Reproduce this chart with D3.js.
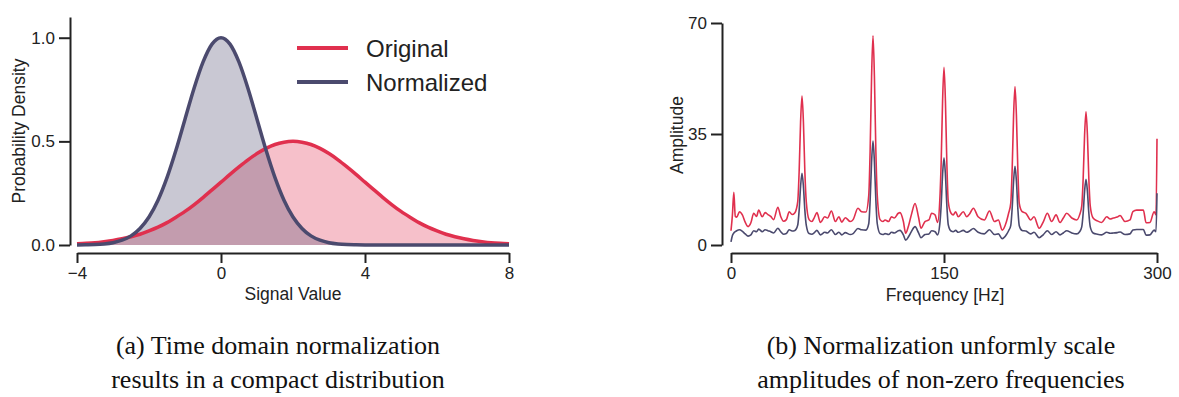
<!DOCTYPE html>
<html>
<head>
<meta charset="utf-8">
<script src="https://cdn.jsdelivr.net/npm/d3@7"></script>
<style>
  body { margin: 0; background: #fff; }
  .tick text { font-family: "Liberation Sans", Arial, sans-serif; font-size: 17px; fill: #222; }
  .tick line, .domain { stroke: #222; stroke-width: 2; }
  .lbl { font-family: "Liberation Sans", Arial, sans-serif; font-size: 17.5px; fill: #222; }
  .cap { font-family: "Liberation Serif", "Times New Roman", serif; font-size: 26px; fill: #111; }
</style>
</head>
<body>
<div id="chart"></div>
<script>

var width = 1179;
var height = 397;

// (a) densities
var sigX = [-4, -3.75, -3.5, -3.25, -3, -2.75, -2.5, -2.25, -2, -1.75, -1.5, -1.25, -1, -0.75, -0.5, -0.25,
            0, 0.25, 0.5, 0.75, 1, 1.25, 1.5, 1.75, 2, 2.25, 2.5, 2.75, 3, 3.25, 3.5, 3.75,
            4, 4.25, 4.5, 4.75, 5, 5.25, 5.5, 5.75, 6, 6.25, 6.5, 6.75, 7, 7.25, 7.5, 7.75, 8];
var origDens = [0.006, 0.008, 0.011, 0.016, 0.022, 0.030, 0.040, 0.052, 0.068, 0.086, 0.108, 0.134, 0.162, 0.194, 0.229, 0.266,
                0.303, 0.341, 0.377, 0.411, 0.441, 0.466, 0.485, 0.496, 0.5, 0.496, 0.485, 0.466, 0.441, 0.411, 0.377, 0.341,
                0.303, 0.266, 0.229, 0.194, 0.162, 0.134, 0.108, 0.086, 0.068, 0.052, 0.040, 0.030, 0.022, 0.016, 0.011, 0.008, 0.006];
var normDens = [0.0003, 0.0009, 0.002, 0.005, 0.011, 0.023, 0.044, 0.080, 0.135, 0.216, 0.325, 0.458, 0.607, 0.755, 0.882, 0.969,
                1.0, 0.969, 0.882, 0.755, 0.607, 0.458, 0.325, 0.216, 0.135, 0.080, 0.044, 0.023, 0.011, 0.005, 0.002, 0.0009,
                0.0003, 0, 0, 0, 0, 0, 0, 0, 0, 0, 0, 0, 0, 0, 0, 0, 0];

// (b) spectra
var freq = [0, 1, 2, 3, 4, 6, 8, 10, 12, 14, 16, 18, 19.5, 22, 24, 26, 28, 30, 33, 35, 37, 39, 41, 43, 45,
            47, 48, 49, 50, 51, 52, 53, 55, 57, 58.5, 60.5, 63, 66, 68, 70.7, 73.5, 76, 78, 80.5, 84, 86, 89.4, 92, 95,
            97, 98, 99, 100, 101, 102, 103, 105, 107, 108.5, 111, 113, 115, 117.8, 119, 121.4, 123, 125, 127,
            129.6, 132, 133.8, 136.6, 139.4, 141.3, 143.7, 145.5,
            147, 148, 149, 150, 151, 152, 153, 155, 156.5, 158.2, 160, 163.6, 166, 168, 170.7, 174, 178.4, 182,
            185.5, 188.3, 191, 194, 195.5,
            197, 198, 199, 200, 201, 202, 203, 205, 207.7, 211, 213.4, 217, 220, 222.8, 225.8, 228.9, 231.7, 234,
            236.4, 240, 243.4, 245.5,
            247, 248, 249, 250, 251, 252, 253, 255, 258, 261, 264.6, 267, 269.2, 272, 274, 277.5, 281, 283, 285.7,
            290.4, 292.3, 295, 298, 299.3, 300];
var ampOrig = [4.5, 9.5, 16.6, 9.0, 8.8, 10.5, 9.5, 7.2, 5.8, 7.0, 10.0, 9.0, 11.0, 8.9, 10.2, 9.6, 9.0, 8.0, 11.9, 9.0, 7.5, 8.0, 10.5, 9.6, 10.2,
               13.7, 23.3, 38.7, 47, 38.7, 23.3, 13.7, 8.0, 7.4, 8.5, 10.2, 7.1, 8.9, 8.5, 10.7, 7.4, 8.9, 7.2, 8.6, 7.4, 8.0, 11.6, 10.5, 10.4,
               15.6, 30, 53, 66, 53, 30, 15.6, 8.0, 7.4, 7.9, 7.4, 8.9, 8.5, 10.0, 10.2, 7.4, 3.7, 6.0, 9.5,
               13.1, 8.9, 5.3, 7.4, 7.9, 10.0, 9.5, 7.1,
               13.7, 25.9, 45.4, 56, 45.4, 25.9, 13.7, 10.0, 9.5, 10.5, 8.9, 10.5, 8.9, 9.8, 11.6, 8.9, 7.9, 10.7,
               7.4, 7.9, 4.7, 7.4, 10.0,
               13.1, 23.8, 40.8, 50, 40.8, 23.8, 13.1, 10.5, 10.0, 7.9, 8.9, 5.3, 7.4, 10.0, 7.4, 9.5, 7.1, 8.5,
               10.0, 8.5, 7.9, 9.5,
               12.3, 20.9, 34.6, 42, 34.6, 20.9, 12.3, 8.5, 7.6, 7.1, 8.9, 8.2, 8.5, 8.8, 9.3, 7.4, 7.9, 10.5, 11.0,
               11.0, 7.0, 7.1, 10.5, 9.5, 33.5];
var ampNorm = [1.0, 3.0, 3.8, 4.2, 4.5, 4.8, 4.3, 3.5, 2.8, 3.2, 4.5, 4.2, 5.0, 4.2, 4.8, 4.5, 4.2, 3.8, 5.3, 4.2, 3.4, 3.6, 4.8, 4.4, 4.6,
               6.3, 11, 18.5, 22.6, 18.5, 11, 6.3, 3.6, 3.4, 3.8, 4.6, 3.2, 4.0, 3.8, 4.8, 3.3, 4.0, 3.2, 3.9, 3.3, 3.6, 5.2, 4.8, 4.7,
               6.7, 14.2, 26.1, 32.8, 26.1, 14.2, 6.7, 3.6, 3.3, 3.6, 3.3, 4.0, 3.8, 4.5, 4.6, 3.2, 1.5, 2.6, 4.2,
               5.8, 3.9, 2.3, 3.3, 3.5, 4.5, 4.2, 3.2,
               6.4, 12.5, 22.2, 27.5, 22.2, 12.5, 6.4, 4.4, 4.2, 4.6, 4.0, 4.6, 4.0, 4.4, 5.2, 4.0, 3.5, 4.8,
               3.3, 3.5, 2.0, 3.3, 4.5,
               6.1, 11.5, 20.1, 24.8, 20.1, 11.5, 6.1, 4.6, 4.4, 3.5, 4.0, 2.3, 3.3, 4.5, 3.3, 4.2, 3.2, 3.8,
               4.5, 3.8, 3.5, 4.2,
               5.7, 10, 16.9, 20.7, 16.9, 10, 5.7, 3.8, 3.4, 3.2, 4.0, 3.7, 3.8, 3.9, 4.1, 3.3, 3.5, 4.7, 4.9,
               4.9, 3.1, 3.2, 4.7, 4.2, 16.3];

var red = "#e0304e";
var navy = "#4b4a6e";

var svg = d3.select("#chart")
    .append("svg")
        .attr("width", width)
        .attr("height", height)
        ;

// ---------- panel (a) ----------
var xa = d3.scaleLinear().domain([-4, 8]).range([77, 509]);
var ya = d3.scaleLinear().domain([0, 1.1]).range([245, 17]);

var densA = sigX.map(function(d, i) { return {x: d, o: origDens[i], n: normDens[i]}; });

var areaO = d3.area()
    .x(function(d) { return xa(d.x); })
    .y0(ya(0))
    .y1(function(d) { return ya(d.o); })
    .curve(d3.curveMonotoneX);
var areaN = d3.area()
    .x(function(d) { return xa(d.x); })
    .y0(ya(0))
    .y1(function(d) { return ya(d.n); })
    .curve(d3.curveMonotoneX);

svg.append("path").datum(densA).attr("d", areaO).attr("fill", red).attr("fill-opacity", 0.3);
svg.append("path").datum(densA).attr("d", areaN).attr("fill", navy).attr("fill-opacity", 0.3);

svg.append("path").datum(densA)
    .attr("d", areaO.lineY1())
    .attr("fill", "none").attr("stroke", red).attr("stroke-width", 3.5);
svg.append("path").datum(densA)
    .attr("d", areaN.lineY1())
    .attr("fill", "none").attr("stroke", navy).attr("stroke-width", 3.5);

svg.append("g")
    .attr("transform", "translate(70,0)")
    .call(d3.axisLeft(ya).tickValues([0, 0.5, 1]).tickFormat(d3.format(".1f"))
        .tickSize(11).tickSizeOuter(0).tickPadding(4));
svg.append("g")
    .attr("transform", "translate(0,253)")
    .call(d3.axisBottom(xa).tickValues([-4, 0, 4, 8]).tickSize(10).tickSizeOuter(0).tickPadding(4));

svg.append("text").attr("class", "lbl")
    .attr("transform", "translate(25,131) rotate(-90)")
    .attr("text-anchor", "middle")
    .text("Probability Density");
svg.append("text").attr("class", "lbl")
    .attr("x", 293).attr("y", 300)
    .attr("text-anchor", "middle")
    .text("Signal Value");

// legend
var legend = [{name: "Original", color: red}, {name: "Normalized", color: navy}];
legend.forEach(function(d, i) {
    svg.append("line")
        .attr("x1", 297).attr("x2", 348)
        .attr("y1", 48 + i * 34).attr("y2", 48 + i * 34)
        .attr("stroke", d.color).attr("stroke-width", 4);
    svg.append("text")
        .attr("x", 366).attr("y", 57 + i * 34)
        .attr("font-family", "Liberation Sans, Arial, sans-serif")
        .attr("font-size", "24px").attr("fill", "#222")
        .text(d.name);
});

// ---------- panel (b) ----------
var xb = d3.scaleLinear().domain([0, 300]).range([731, 1157]);
var yb = d3.scaleLinear().domain([0, 70]).range([245, 23]);

var spec = freq.map(function(d, i) { return {f: d, o: ampOrig[i], n: ampNorm[i]}; });

var lineO = d3.line()
    .x(function(d) { return xb(d.f); })
    .y(function(d) { return yb(d.o); })
    .curve(d3.curveMonotoneX);
var lineN = d3.line()
    .x(function(d) { return xb(d.f); })
    .y(function(d) { return yb(d.n); })
    .curve(d3.curveMonotoneX);

svg.append("path").datum(spec).attr("d", lineO)
    .attr("fill", "none").attr("stroke", red).attr("stroke-width", 1.6);
svg.append("path").datum(spec).attr("d", lineN)
    .attr("fill", "none").attr("stroke", navy).attr("stroke-width", 1.6);

svg.append("g")
    .attr("transform", "translate(722,0)")
    .call(d3.axisLeft(yb).tickValues([0, 35, 70]).tickSize(11).tickSizeOuter(0).tickPadding(4));
svg.append("g")
    .attr("transform", "translate(0,253)")
    .call(d3.axisBottom(xb).tickValues([0, 150, 300]).tickSize(10).tickSizeOuter(0).tickPadding(4));

svg.append("text").attr("class", "lbl")
    .attr("transform", "translate(683,135) rotate(-90)")
    .attr("text-anchor", "middle")
    .text("Amplitude");
svg.append("text").attr("class", "lbl")
    .attr("x", 945).attr("y", 301)
    .attr("text-anchor", "middle")
    .text("Frequency [Hz]");

// ---------- captions ----------
var capA = ["(a) Time domain normalization", "results in a compact distribution"];
var capB = ["(b) Normalization unformly scale", "amplitudes of non-zero frequencies"];

capA.forEach(function(t, i) {
    svg.append("text").attr("class", "cap")
        .attr("x", 278).attr("y", 354 + i * 34)
        .attr("text-anchor", "middle").text(t);
});
capB.forEach(function(t, i) {
    svg.append("text").attr("class", "cap")
        .attr("x", 941).attr("y", 354 + i * 34)
        .attr("text-anchor", "middle").text(t);
});

</script>
</body>
</html>
